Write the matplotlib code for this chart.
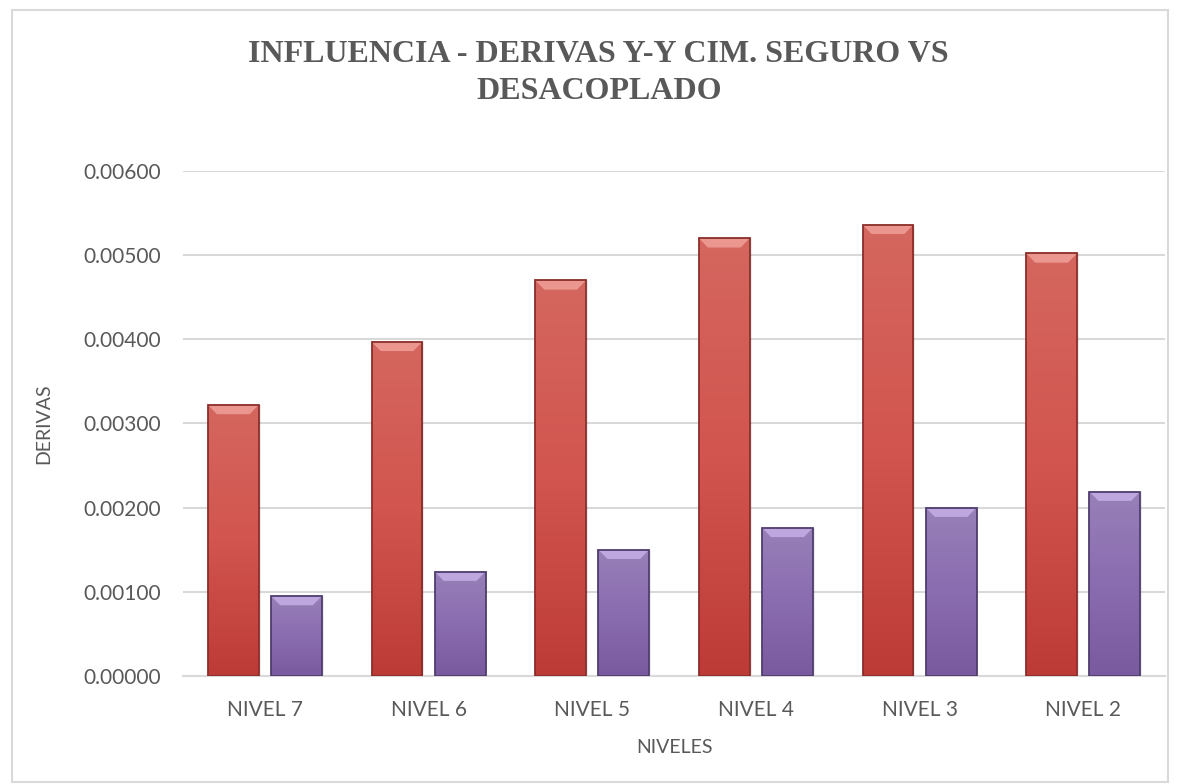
import numpy as np
import matplotlib.pyplot as plt
from matplotlib.colors import LinearSegmentedColormap
from matplotlib.patches import Rectangle, Polygon

niveles = ['NIVEL 7', 'NIVEL 6', 'NIVEL 5', 'NIVEL 4', 'NIVEL 3', 'NIVEL 2']
derivas_seguro = [0.00322, 0.00397, 0.00470, 0.00520, 0.00536, 0.00502]
derivas_desacoplado = [0.00095, 0.00124, 0.00150, 0.00176, 0.00200, 0.00219]

gris = '#595959'
fig = plt.figure(figsize=(11.81, 7.84), dpi=100)
ax = fig.add_axes([0.155, 0.1378, 0.8315, 0.6442])

x = np.arange(len(niveles))
ancho = 0.31
desp = 0.193

rojo = LinearSegmentedColormap.from_list('rojo', ['#bd3b37', '#d2554f', '#d4675f'])
morado = LinearSegmentedColormap.from_list('morado', ['#7a5a9e', '#8a6cb0', '#9880b8'])

def dibujar(pos, valores, cmap, borde, brillo):
    barras = ax.bar(pos, valores, width=ancho, color='none', edgecolor=borde,
                    linewidth=1.3, zorder=4)
    for b in barras:
        x0, w, h = b.get_x(), b.get_width(), b.get_height()
        # sombra
        ax.add_patch(Rectangle((x0 + 0.012, 0), w, h, color='#000000', alpha=0.08,
                               zorder=2, linewidth=0))
        grad = np.linspace(0, 1, 256).reshape(-1, 1)
        im = ax.imshow(grad, cmap=cmap, origin='lower', aspect='auto',
                       extent=[x0, x0 + w, 0, h], zorder=3)
        im.set_clip_path(b)
        dx, dy = 0.055, 0.00011
        ax.add_patch(Polygon([[x0, h], [x0 + w, h], [x0 + w - dx, h - dy], [x0 + dx, h - dy]],
                             closed=True, color=brillo, alpha=0.8, zorder=3.5, linewidth=0))

dibujar(x - desp, derivas_seguro, rojo, '#8a2e2a', '#f2a39c')
dibujar(x + desp, derivas_desacoplado, morado, '#4f3d6e', '#c9b2ea')

ax.set_xlim(-0.5, len(niveles) - 0.5)
ax.set_ylim(0, 0.006)
ax.set_yticks(np.arange(0, 0.0061, 0.001))
ax.set_yticklabels(['%.5f' % v for v in np.arange(0, 0.0061, 0.001)])
ax.set_xticks(x)
ax.set_xticklabels(niveles)
ax.grid(axis='y', color='#d9d9d9', linewidth=1.5, zorder=0)
ax.set_axisbelow(True)
for s in ['top', 'right', 'left']:
    ax.spines[s].set_visible(False)
ax.spines['bottom'].set_color('#d9d9d9')
ax.spines['bottom'].set_linewidth(1.5)
ax.tick_params(length=0, labelsize=15, labelcolor=gris)
ax.tick_params(axis='x', pad=17)
ax.tick_params(axis='y', pad=16)
for t in ax.get_xticklabels() + ax.get_yticklabels():
    t.set_fontfamily('Lato')

ax.set_ylabel('DERIVAS', fontsize=14, color=gris, family='Lato', labelpad=22)
ax.set_xlabel('NIVELES', fontsize=14, color=gris, family='Lato', labelpad=14)

fig.text(0.507, 0.907, 'INFLUENCIA - DERIVAS Y-Y CIM. SEGURO VS\nDESACOPLADO',
         ha='center', va='center', fontsize=23, fontweight='bold', color=gris,
         family='Liberation Serif', linespacing=1.4)

fig.patches.append(Rectangle((0.0102, 0.003), 0.979, 0.984, transform=fig.transFigure,
                             fill=False, edgecolor='#d9d9d9', linewidth=1.5))

fig.savefig('out.png', dpi=100)
